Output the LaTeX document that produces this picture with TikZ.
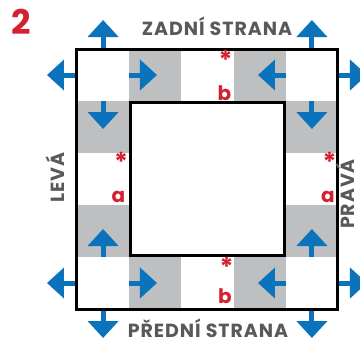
\documentclass[tikz,border=0pt]{standalone}
\usepackage{fontspec}
\setmainfont{Poppins}
\newfontfamily\stranafont[LetterSpace=5]{Poppins}
\usetikzlibrary{arrows.meta}
\definecolor{modra}{HTML}{0B72BC}
\definecolor{seda}{HTML}{BEBFC1}
\definecolor{textseda}{HTML}{58595B}
\definecolor{cervena}{HTML}{D42131}

\begin{document}
\begin{tikzpicture}[x=1pt,y=-1pt,
		sipka/.style={modra,line width=5pt,-{Triangle[width=30pt,length=17pt]}},
		strana/.style={textseda,font=\stranafont\bfseries\fontsize{19}{19}\selectfont,anchor=base,inner sep=0pt},
		znacka/.style={cervena,font=\bfseries\fontsize{20}{20}\selectfont,inner sep=0pt},
		hvezda/.style={cervena,font=\bfseries\fontsize{26}{26}\selectfont,inner sep=0pt}]
			\useasboundingbox (0,0) rectangle (360,343);
			% sede bunky
			\fill[seda] (129.2,49) rectangle (181.4,101);
			\fill[seda] (233.6,49) rectangle (285.8,101);
			\fill[seda] (77,101) rectangle (129.2,153);
			\fill[seda] (285.8,101) rectangle (338,153);
			\fill[seda] (77,205) rectangle (129.2,257);
			\fill[seda] (285.8,205) rectangle (338,257);
			\fill[seda] (129.2,257) rectangle (181.4,309);
			\fill[seda] (233.6,257) rectangle (285.8,309);
			% sipky ven
			\draw[sipka] (103.1,49)-- (103.1,20);
			\draw[sipka] (77,75)-- (47,75);
			\draw[sipka] (311.9,49)-- (311.9,20);
			\draw[sipka] (338,75)-- (367,75);
			\draw[sipka] (77,283)-- (47,283);
			\draw[sipka] (103.1,309)-- (103.1,338);
			\draw[sipka] (338,283)-- (367,283);
			\draw[sipka] (311.9,309)-- (311.9,338);
			% sipky uvnitr
			\draw[sipka] (129.2,75)-- (157,75);
			\draw[sipka] (285.8,75)-- (258,75);
			\draw[sipka] (129.2,283)-- (157,283);
			\draw[sipka] (285.8,283)-- (258,283);
			\draw[sipka] (103.1,101)-- (103.1,129);
			\draw[sipka] (311.9,101)-- (311.9,129);
			\draw[sipka] (103.1,257)-- (103.1,229);
			\draw[sipka] (311.9,257)-- (311.9,229);
			% ramecky
			\draw[line width=3pt] (77,49) rectangle (338,309);
			\draw[line width=3pt] (130.7,102.5) rectangle (284.3,255.5);

			\node[cervena,font=\bfseries\fontsize{34}{34}\selectfont,anchor=base,inner sep=0pt] (cislo) at (21,34) {2};
			\node[strana] (zadni) at (217,35) {ZADNÍ STRANA};
			\node[strana] (predni) at (208,337) {PŘEDNÍ STRANA};
			\node[strana,rotate=90] (leva) at (65,177.5) {LEVÁ};
			\node[strana,rotate=90] (prava) at (355,194) {PRAVÁ};

			\node[hvezda] (hvezdaH) at (225.5,60) {*};
			\node[znacka,anchor=base] (bH) at (224.5,100) {b};
			\node[hvezda] (hvezdaD) at (226.5,266.5) {*};
			\node[znacka,anchor=base] (bD) at (225,303) {b};
			\node[hvezda] (hvezdaL) at (121,162) {*};
			\node[znacka,anchor=base] (aL) at (118.5,202) {a};
			\node[hvezda] (hvezdaP) at (329.5,162) {*};
			\node[znacka,anchor=base] (aP) at (328,202) {a};
		
		\end{tikzpicture}
\end{document}
